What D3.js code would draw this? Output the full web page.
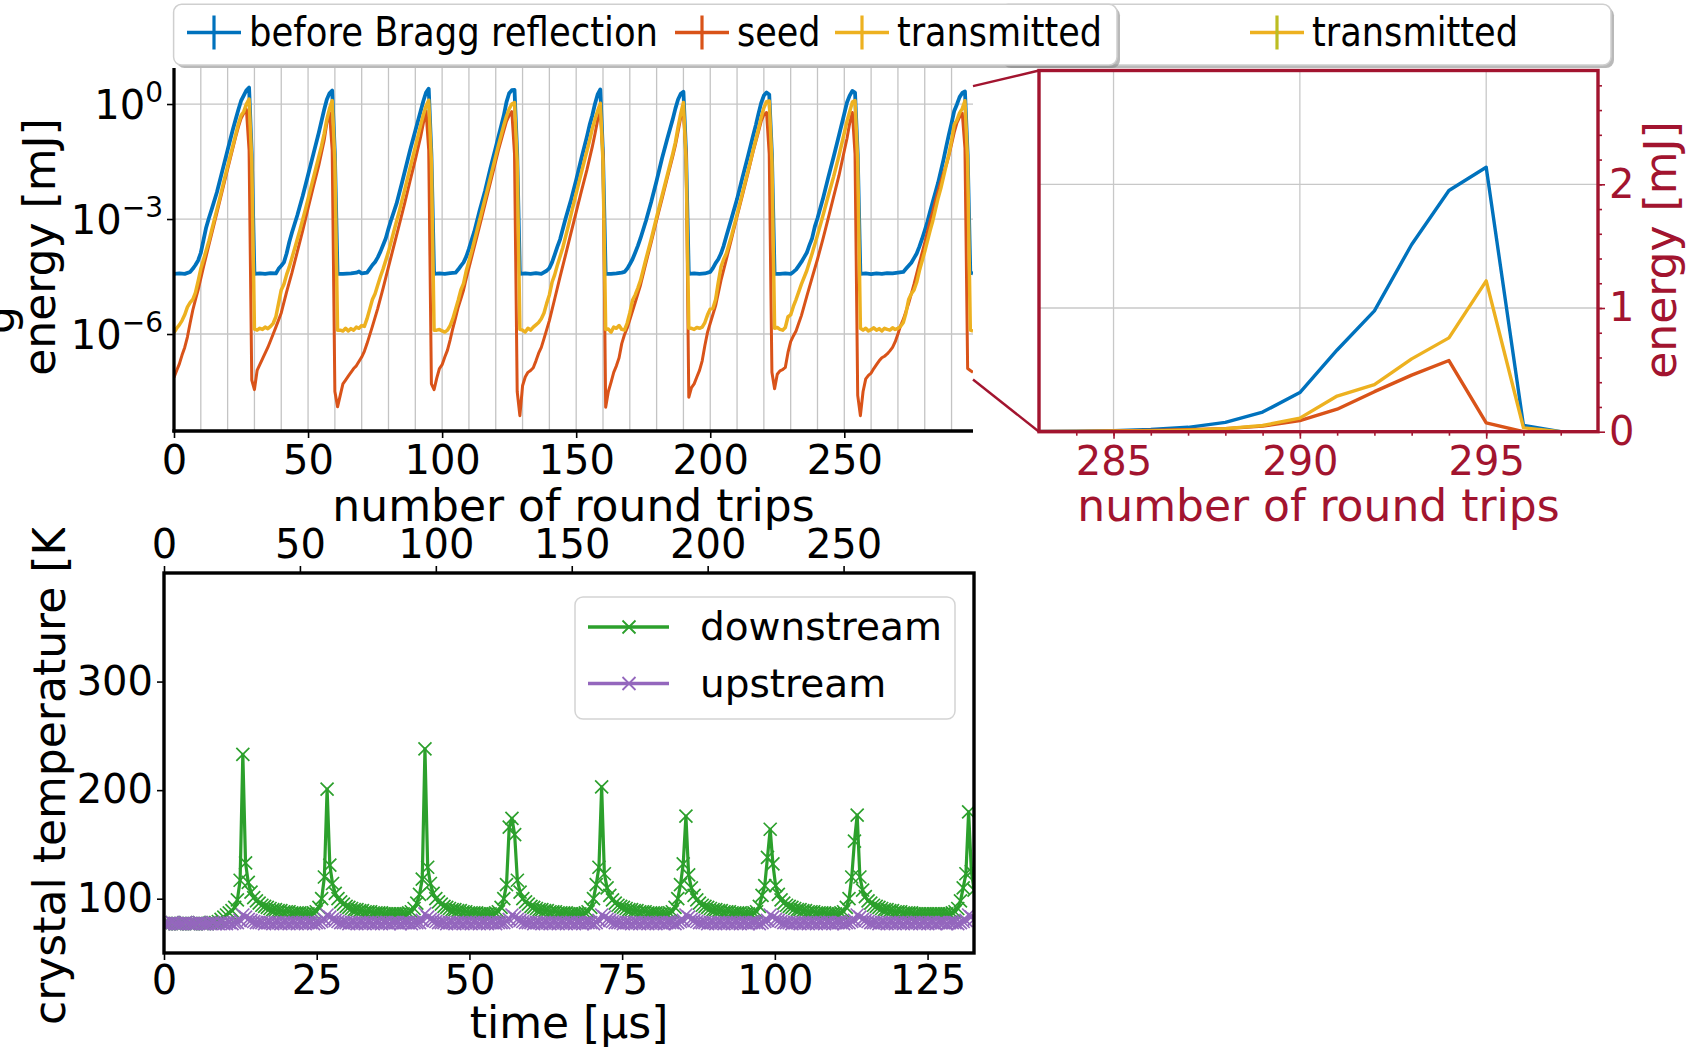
<!DOCTYPE html>
<html>
<head>
<meta charset="utf-8">
<script src="https://cdn.jsdelivr.net/npm/d3@7"></script>
<style>
  body { margin: 0; background: #fff; }
  svg { display: block; }
</style>
</head>
<body>
<div id="wrapper"></div>
<script>
// ---- data ----
// pulse energy per round trip, stored as log10(E / mJ), [trip, log10E]
const beforeBragg = [
  [0,-4.43],[2,-4.42],[4,-4.43],[6,-4.38],[7,-4.3],[8,-4.2],[9,-4.08],[10,-3.88],[11,-3.55],[12,-3.22],[13,-2.98],[14,-2.76],[16,-2.3],[18,-1.75],[20,-1.2],[22,-0.65],[23,-0.4],[24,-0.15],[25,0.08],[26,0.22],[27,0.36],[28,0.43],[29,-1.3],[30,-4.43],
  [32,-4.42],[34,-4.43],[36,-4.41],[38,-4.42],[39,-4.3],[40,-4.22],[41,-4.13],[42,-3.9],[43,-3.6],[44,-3.35],[46,-2.9],[48,-2.4],[50,-1.85],[52,-1.3],[54,-0.75],[55,-0.45],[56,-0.15],[57,0.12],[58,0.28],[59,0.35],[60,-1.3],[61,-4.43],
  [63,-4.43],[66,-4.42],[68,-4.4],[69,-4.37],[70,-4.42],[72,-4.4],[73,-4.3],[74,-4.2],[75,-4.12],[76,-4.0],[77,-3.85],[78,-3.68],[79,-3.5],[80,-3.25],[81,-3.02],[83,-2.6],[85,-2.06],[88,-1.22],[90,-0.7],[92,-0.18],[93,0.08],[94,0.3],[95,0.4],[96,-1.3],[97,-4.43],
  [99,-4.42],[101,-4.43],[103,-4.41],[105,-4.4],[106,-4.32],[107,-4.22],[108,-4.13],[109,-3.98],[110,-3.78],[111,-3.55],[112,-3.33],[114,-2.78],[116,-2.27],[118,-1.68],[120,-1.13],[122,-0.58],[123,-0.3],[124,0.05],[125,0.28],[126,0.36],[127,0.37],[128,-1.3],[129,-4.43],
  [131,-4.42],[133,-4.43],[135,-4.41],[137,-4.43],[139,-4.35],[140,-4.28],[141,-4.13],[142,-3.93],[143,-3.72],[144,-3.53],[146,-3.0],[148,-2.52],[150,-1.98],[152,-1.4],[154,-0.85],[155,-0.55],[156,-0.3],[157,0.0],[158,0.25],[159,0.38],[160,-1.3],[161,-4.43],
  [163,-4.43],[165,-4.42],[167,-4.4],[168,-4.38],[169,-4.3],[170,-4.18],[171,-4.05],[172,-3.88],[173,-3.7],[174,-3.5],[176,-3.05],[178,-2.55],[180,-2.0],[182,-1.42],[184,-0.9],[186,-0.4],[187,-0.12],[188,0.12],[189,0.27],[190,0.32],[191,-1.3],[192,-4.43],
  [194,-4.42],[196,-4.43],[198,-4.42],[200,-4.38],[201,-4.28],[202,-4.15],[203,-4.05],[204,-3.9],[205,-3.7],[206,-3.45],[208,-2.97],[210,-2.48],[212,-1.92],[214,-1.38],[216,-0.82],[217,-0.55],[218,-0.25],[219,0.03],[220,0.22],[221,0.3],[222,0.25],[223,-1.3],[224,-4.43],
  [226,-4.43],[228,-4.42],[230,-4.43],[231,-4.38],[232,-4.32],[233,-4.22],[234,-4.12],[235,-4.0],[236,-3.88],[237,-3.68],[238,-3.5],[239,-3.2],[240,-2.98],[242,-2.48],[244,-1.92],[246,-1.38],[248,-0.82],[250,-0.25],[251,0.04],[252,0.22],[253,0.34],[254,0.3],[255,-1.3],[256,-4.43],
  [258,-4.42],[260,-4.44],[262,-4.42],[264,-4.43],[266,-4.41],[268,-4.42],[270,-4.4],[272,-4.38],[273,-4.3],[274,-4.22],[275,-4.14],[276,-4.02],[277,-3.9],[278,-3.72],[279,-3.52],[280,-3.3],[281,-3.07],[282,-2.8],[283,-2.55],[284,-2.3],[285,-2.05],[286,-1.75],[287,-1.45],[288,-1.12],[289,-0.8],[290,-0.5],[291,-0.18],[292,-0.01],[293,0.18],[294,0.29],[295,0.33],[296,-1.3],[297,-4.4],[298,-4.42]
];
const seed = [
  [0,-7.13],[1,-6.95],[2,-6.78],[3,-6.55],[4,-6.35],[5,-6.08],[6,-5.72],[7,-5.38],[8,-5.1],[9,-4.85],[10,-4.55],[11,-4.25],[13,-3.68],[15,-3.12],[17,-2.55],[19,-1.98],[21,-1.42],[23,-0.86],[24,-0.6],[25,-0.38],[26,-0.24],[27,-0.14],[28,-1.2],[29,-7.2],[30,-7.45],
  [31,-6.95],[32,-6.8],[33,-6.65],[35,-6.35],[37,-6.0],[38,-5.82],[40,-5.45],[42,-4.9],[44,-4.4],[46,-3.85],[48,-3.3],[50,-2.72],[52,-2.15],[54,-1.6],[56,-0.95],[57,-0.5],[58,-0.22],[59,-1.2],[60,-7.5],[61,-7.9],
  [62,-7.6],[63,-7.3],[64,-7.2],[65,-7.1],[66,-7.0],[67,-6.9],[68,-6.83],[70,-6.6],[71,-6.45],[72,-6.25],[74,-5.8],[76,-5.33],[78,-4.8],[80,-4.25],[82,-3.7],[84,-3.15],[86,-2.6],[88,-2.02],[90,-1.45],[92,-0.85],[93,-0.5],[94,-0.18],[95,-1.2],[96,-7.3],[97,-7.45],
  [98,-7.15],[99,-6.9],[100,-6.8],[101,-6.6],[102,-6.42],[103,-6.15],[104,-5.85],[105,-5.58],[106,-5.3],[107,-5.08],[108,-4.85],[109,-4.55],[111,-4.0],[113,-3.45],[115,-2.9],[117,-2.33],[119,-1.77],[121,-1.2],[123,-0.7],[124,-0.45],[125,-0.3],[126,-0.2],[127,-1.3],[128,-7.5],[129,-8.13],
  [130,-7.35],[131,-7.12],[132,-7.0],[133,-6.95],[134,-6.88],[135,-6.7],[136,-6.5],[137,-6.35],[138,-6.12],[140,-5.65],[142,-5.08],[144,-4.5],[146,-3.95],[148,-3.38],[150,-2.82],[152,-2.26],[154,-1.72],[156,-1.12],[157,-0.78],[158,-0.42],[159,-0.2],[160,-1.3],[161,-7.91],
  [162,-7.5],[163,-7.26],[164,-7.0],[165,-6.83],[166,-6.62],[167,-6.25],[168,-6.02],[169,-5.85],[170,-5.63],[172,-5.18],[174,-4.72],[176,-4.15],[178,-3.6],[180,-3.03],[182,-2.48],[184,-1.92],[186,-1.37],[187,-1.08],[188,-0.72],[189,-0.35],[190,-0.22],[191,-1.3],[192,-7.65],
  [193,-7.4],[194,-7.3],[195,-7.12],[196,-6.95],[197,-6.7],[198,-6.3],[199,-5.95],[200,-5.72],[202,-5.26],[204,-4.6],[206,-4.05],[208,-3.5],[210,-2.93],[212,-2.38],[214,-1.82],[216,-1.24],[218,-0.72],[219,-0.45],[220,-0.28],[221,-0.22],[222,-1.3],[223,-7.0],[224,-7.43],
  [225,-7.05],[226,-6.96],[227,-6.93],[228,-6.87],[229,-6.48],[230,-6.2],[231,-6.05],[232,-5.92],[233,-5.72],[234,-5.52],[236,-5.02],[238,-4.53],[240,-4.05],[242,-3.53],[244,-2.98],[246,-2.42],[248,-1.87],[250,-1.22],[251,-0.9],[252,-0.5],[253,-0.22],[254,-1.3],[255,-7.6],[256,-8.13],
  [257,-7.5],[258,-7.17],[259,-7.08],[260,-7.02],[261,-6.9],[262,-6.8],[263,-6.7],[264,-6.62],[265,-6.58],[266,-6.52],[267,-6.44],[268,-6.35],[269,-6.2],[270,-6.0],[271,-5.78],[272,-5.62],[274,-5.2],[276,-4.7],[278,-4.15],[280,-3.62],[282,-3.05],[283,-2.8],[284,-2.52],[285,-2.27],[286,-2.02],[287,-1.8],[288,-1.6],[289,-1.35],[290,-1.05],[291,-0.74],[292,-0.49],[293,-0.34],[294,-0.24],[295,-1.15],[296,-6.9],[297,-6.95],[298,-7.0]
];
const transmitted = [
  [0,-5.96],[1,-5.85],[2,-5.76],[3,-5.65],[4,-5.5],[5,-5.3],[6,-5.18],[7,-5.1],[8,-4.92],[9,-4.62],[10,-4.3],[11,-4.06],[13,-3.58],[15,-3.03],[17,-2.48],[19,-1.9],[21,-1.35],[23,-0.8],[24,-0.52],[25,-0.3],[26,-0.2],[27,0.0],[28,0.13],[29,-1.5],[30,-5.87],
  [31,-5.9],[32,-5.85],[33,-5.88],[34,-5.82],[35,-5.86],[36,-5.8],[37,-5.72],[38,-5.55],[39,-5.2],[40,-4.85],[41,-4.7],[42,-4.45],[43,-4.25],[45,-3.77],[47,-3.28],[49,-2.75],[51,-2.2],[53,-1.65],[55,-1.1],[56,-0.78],[57,-0.4],[58,-0.12],[59,0.09],[60,-1.5],[61,-5.9],
  [62,-5.9],[63,-5.92],[64,-5.85],[65,-5.92],[66,-5.86],[67,-5.9],[68,-5.82],[69,-5.85],[70,-5.78],[71,-5.8],[72,-5.6],[73,-5.35],[74,-5.1],[75,-4.95],[76,-4.72],[77,-4.5],[78,-4.3],[80,-3.85],[82,-3.32],[84,-2.8],[86,-2.25],[88,-1.68],[90,-1.12],[92,-0.55],[93,-0.28],[94,-0.05],[95,0.1],[96,-1.5],[97,-5.9],
  [98,-5.9],[99,-5.88],[100,-5.92],[101,-5.95],[102,-5.9],[103,-5.78],[104,-5.6],[105,-5.36],[106,-5.12],[107,-4.85],[108,-4.68],[109,-4.35],[111,-3.85],[113,-3.3],[115,-2.75],[117,-2.2],[119,-1.64],[121,-1.08],[123,-0.56],[124,-0.32],[125,-0.13],[126,0.0],[127,0.04],[128,-1.5],[129,-5.88],
  [130,-5.9],[131,-5.95],[132,-5.85],[133,-5.9],[134,-5.82],[135,-5.76],[136,-5.7],[137,-5.6],[138,-5.45],[139,-5.2],[140,-4.98],[141,-4.65],[142,-4.45],[143,-4.2],[145,-3.75],[147,-3.2],[149,-2.62],[151,-2.05],[153,-1.5],[155,-0.95],[156,-0.65],[157,-0.4],[158,-0.18],[159,0.02],[160,-1.5],[161,-5.88],
  [162,-5.87],[163,-5.95],[164,-5.82],[165,-5.85],[166,-5.78],[167,-5.88],[168,-5.9],[169,-5.72],[170,-5.45],[171,-5.12],[172,-4.98],[173,-4.8],[174,-4.6],[176,-4.05],[178,-3.52],[180,-2.95],[182,-2.4],[184,-1.85],[186,-1.3],[187,-1.0],[188,-0.6],[189,-0.25],[190,0.04],[191,-1.5],[192,-5.85],
  [193,-5.85],[194,-5.88],[195,-5.83],[196,-5.85],[197,-5.82],[198,-5.7],[199,-5.5],[200,-5.35],[201,-5.33],[202,-5.1],[203,-4.65],[204,-4.25],[205,-4.05],[206,-3.9],[208,-3.42],[210,-2.88],[212,-2.32],[214,-1.77],[216,-1.2],[218,-0.65],[219,-0.35],[220,-0.1],[221,0.06],[222,0.08],[223,-1.5],[224,-5.85],
  [225,-5.83],[226,-5.88],[227,-5.9],[228,-5.83],[229,-5.55],[230,-5.5],[231,-5.28],[232,-5.1],[233,-4.9],[234,-4.7],[236,-4.35],[238,-3.9],[240,-3.42],[242,-2.92],[244,-2.4],[246,-1.9],[248,-1.35],[250,-0.75],[251,-0.45],[252,-0.2],[253,0.05],[254,0.09],[255,-1.5],[256,-5.85],
  [257,-5.9],[258,-5.85],[259,-5.92],[260,-5.88],[261,-5.84],[262,-5.9],[263,-5.86],[264,-5.92],[265,-5.85],[266,-5.88],[267,-5.9],[268,-5.84],[269,-5.88],[270,-5.85],[271,-5.8],[272,-5.7],[273,-5.45],[274,-5.1],[275,-4.95],[276,-4.85],[277,-4.65],[278,-4.35],[280,-3.85],[282,-3.3],[283,-3.05],[284,-2.75],[285,-2.45],[286,-2.2],[287,-1.9],[288,-1.6],[289,-1.3],[290,-0.96],[291,-0.54],[292,-0.42],[293,-0.23],[294,-0.12],[295,0.086],[296,-1.5],[297,-5.9],[298,-5.92]
];

// crystal temperature [K], one value per round trip (trip 0 .. 298)
const downstreamK = [
  77,77,77,78,77,77,77,77,78,77, 77,77,77,78,77,77,77,78,78,78,
  79,81,83,85,87,89,92,99,117,233, 133,115,106,101,98,96,94,93,92,91,
  90,90,89,89,88,88,88,87,87,87, 87,86,86,86,86,87,88,92,100,120,
  201,131,114,105,100,97,95,93,92,91, 90,90,89,89,88,88,88,87,87,87,
  87,86,86,86,86,86,86,86,86,86, 87,88,91,96,104,118,238,129,114,105,
  100,97,95,93,92,91,90,90,89,89, 88,88,87,87,87,87,86,86,86,86,
  86,86,87,88,92,100,113,166,174,159, 117,106,100,97,95,93,92,91,90,90,
  89,89,88,88,88,87,87,87,87,86, 86,86,86,86,86,87,88,92,100,113,
  129,203,123,110,103,99,96,94,93,92, 91,90,90,89,89,88,88,88,87,87,
  87,87,86,86,86,86,87,88,92,100, 113,132,176,122,110,103,99,96,94,93,
  92,91,90,90,89,89,88,88,88,87, 87,87,87,86,86,86,86,87,88,93,
  103,112,138,164,132,112,104,99,96,94, 93,92,91,90,90,89,89,88,88,88,
  87,87,87,87,86,86,86,86,86,87, 88,92,100,120,153,177,120,108,102,98,
  96,94,93,92,91,90,90,89,89,88, 88,88,87,87,87,87,86,86,86,86,
  86,86,86,86,86,86,86,86,86,86, 87,88,91,98,110,123,180,125,108
];
const upstreamK = [
  77,77,77,78,77,77,77,77,78,77, 77,77,77,78,77,77,77,77,78,77,
  77,78,77,77,78,77,78,78,80,85, 83,81,80,79,78,78,78,77,78,78,
  77,78,78,77,78,78,77,78,78,77, 78,78,77,78,78,77,78,78,79,81,
  85,83,81,80,79,78,78,78,77,78, 78,77,78,78,77,78,78,77,78,78,
  77,78,78,77,78,78,78,77,78,78, 78,77,78,78,78,80,86,83,81,80,
  79,78,78,78,77,78,78,77,78,78, 77,78,78,77,78,78,77,78,78,77,
  78,78,77,78,78,78,79,81,85,83, 81,80,79,78,78,78,77,78,78,77,
  78,78,77,78,78,77,78,78,77,78, 78,77,78,78,77,78,78,78,77,78,
  80,85,83,81,80,79,78,78,78,77, 78,78,77,78,78,77,78,78,77,78,
  78,77,78,78,77,78,78,78,77,78, 79,80,85,83,81,80,79,78,78,78,
  77,78,78,77,78,78,77,78,78,77, 78,78,77,78,78,77,78,78,78,77,
  78,79,80,85,83,81,80,79,78,78, 78,77,78,78,77,78,78,77,78,78,
  77,78,78,77,78,78,77,78,78,78, 77,78,78,79,80,85,83,81,80,79,
  78,78,78,77,78,78,77,78,78,77, 78,78,77,78,78,77,78,78,77,78,
  78,77,78,78,77,78,78,78,77,78, 78,78,77,78,79,80,85,83,81
];
const roundTripUs = 0.445;   // µs per round trip

const energySeries = [
  { name: "before Bragg reflection", color: "#0072BD", width: 3.8, data: beforeBragg },
  { name: "seed", color: "#D95319", width: 3.0, data: seed },
  { name: "transmitted", color: "#EDB120", width: 3.5, data: transmitted }
];
const mainXTicks = [0, 50, 100, 150, 200, 250];
const mainYTicks = [1, 1e-3, 1e-6];
const insetXTicks = [285, 290, 295];
const insetYTicks = [0, 1, 2];
const timeTicks = [0, 25, 50, 75, 100, 125];
const tripTopTicks = [0, 50, 100, 150, 200, 250];
const tempTicks = [100, 200, 300];

// ---- layout ----
const FONT = "DejaVu Sans";
const RED = "#A2142F";
const main = { left: 174, right: 973, top: 68, bottom: 431 };
const inset = { left: 1039, right: 1598, top: 70.5, bottom: 431.7 };
const temp = { left: 164, right: 974, top: 573, bottom: 953 };

const svg = d3.select("#wrapper").append("svg")
  .attr("width", 1701).attr("height", 1047)
  .style("font-family", FONT);
const defs = svg.append("defs");
function clip(id, b) {
  defs.append("clipPath").attr("id", id).append("rect")
    .attr("x", b.left).attr("y", b.top)
    .attr("width", b.right - b.left).attr("height", b.bottom - b.top);
  return `url(#${id})`;
}
function styleAxis(g, color, size) {
  g.attr("font-family", FONT).attr("font-size", size);
  g.select(".domain").remove();
  g.selectAll(".tick line").attr("stroke", color).attr("stroke-width", 1.6);
  g.selectAll(".tick text").attr("fill", color);
}

// ---- scales ----
const xMain = d3.scaleLinear().domain([0, 298]).range([main.left, main.right]);
const yMain = d3.scaleLog().domain([Math.pow(10, -8.53), Math.pow(10, 0.94)]).range([main.bottom, main.top]);
const xInset = d3.scaleLinear().domain([283, 298]).range([inset.left, inset.right]);
const yInset = d3.scaleLinear().domain([0, 2.92]).range([inset.bottom, inset.top]);
const xTime = d3.scaleLinear().domain([0, 132.6]).range([temp.left, temp.right]);
const xTripTop = d3.scaleLinear().domain([0, 132.6 / roundTripUs]).range([temp.left, temp.right]);
const yTemp = d3.scaleLinear().domain([50, 400]).range([temp.bottom, temp.top]);

// ================= main log panel =================
const gMain = svg.append("g");
gMain.append("g").selectAll("line").data(d3.range(0, 291, 10)).join("line")
  .attr("x1", d => xMain(d)).attr("x2", d => xMain(d))
  .attr("y1", main.top).attr("y2", main.bottom)
  .attr("stroke", "#c4c4c4").attr("stroke-width", 1.3);
gMain.append("g").selectAll("line").data(mainYTicks).join("line")
  .attr("x1", main.left).attr("x2", main.right)
  .attr("y1", d => yMain(d)).attr("y2", d => yMain(d))
  .attr("stroke", "#c4c4c4").attr("stroke-width", 1.3);

const mainLine = d3.line().x(d => xMain(d[0])).y(d => yMain(Math.pow(10, d[1])));
const mainPlot = gMain.append("g").attr("clip-path", clip("clipMain", main));
energySeries.forEach(s => {
  mainPlot.append("path").attr("d", mainLine(s.data))
    .attr("fill", "none").attr("stroke", s.color)
    .attr("stroke-width", s.width).attr("stroke-linejoin", "round");
});

const mxAxis = gMain.append("g").attr("transform", `translate(0,${main.bottom})`)
  .call(d3.axisBottom(xMain).tickValues(mainXTicks).tickSize(7).tickPadding(8).tickSizeOuter(0));
styleAxis(mxAxis, "#000", 40);
const myAxis = gMain.append("g").attr("transform", `translate(${main.left},0)`)
  .call(d3.axisLeft(yMain).tickValues(mainYTicks).tickSize(7).tickFormat(() => "").tickSizeOuter(0));
styleAxis(myAxis, "#000", 40);
mainYTicks.forEach(v => {
  const e = Math.round(Math.log10(v));
  const t = gMain.append("text").attr("x", main.left - 11).attr("y", yMain(v) + 15)
    .attr("text-anchor", "end").attr("font-size", 40).attr("fill", "#000");
  t.append("tspan").text("10");
  t.append("tspan").attr("font-size", 28).attr("dy", -17).text(e < 0 ? "\u2212" + (-e) : String(e));
});
gMain.append("line").attr("x1", main.left).attr("x2", main.left)
  .attr("y1", main.top).attr("y2", main.bottom + 1.6)
  .attr("stroke", "#000").attr("stroke-width", 3.3);
gMain.append("line").attr("x1", main.left - 1.6).attr("x2", main.right)
  .attr("y1", main.bottom).attr("y2", main.bottom)
  .attr("stroke", "#000").attr("stroke-width", 3.3);

gMain.append("text").attr("x", (main.left + main.right) / 2).attr("y", 521)
  .attr("text-anchor", "middle").attr("font-size", 44).text("number of round trips");
gMain.append("text").attr("transform", "translate(55,247) rotate(-90)")
  .attr("text-anchor", "middle").attr("font-size", 44).text("energy [mJ]");
gMain.append("text").attr("transform", "translate(14,320) rotate(-90)")
  .attr("text-anchor", "middle").attr("font-size", 44).text("g");

// ================= inset (linear) panel =================
const gIn = svg.append("g");
// connectors from the main panel to the inset
const linkTop = [[xMain(298), yMain(2.92)], [inset.left, inset.top]];
const linkBottom = [[xMain(298), yMain(6.5e-8)], [inset.left, inset.bottom]];
[linkTop, linkBottom].forEach(l => {
  gIn.append("line").attr("x1", l[0][0]).attr("y1", l[0][1]).attr("x2", l[1][0]).attr("y2", l[1][1])
    .attr("stroke", RED).attr("stroke-width", 2.4);
});
gIn.append("g").selectAll("line").data(insetXTicks).join("line")
  .attr("x1", d => xInset(d)).attr("x2", d => xInset(d))
  .attr("y1", inset.top).attr("y2", inset.bottom)
  .attr("stroke", "#c8c8c8").attr("stroke-width", 1.3);
gIn.append("g").selectAll("line").data([1, 2]).join("line")
  .attr("x1", inset.left).attr("x2", inset.right)
  .attr("y1", d => yInset(d)).attr("y2", d => yInset(d))
  .attr("stroke", "#c8c8c8").attr("stroke-width", 1.3);

const insetLine = d3.line().x(d => xInset(d[0])).y(d => yInset(Math.pow(10, d[1])));
const inPlot = gIn.append("g").attr("clip-path", clip("clipInset", inset));
energySeries.forEach(s => {
  inPlot.append("path").attr("d", insetLine(s.data.filter(d => d[0] >= 280)))
    .attr("fill", "none").attr("stroke", s.color)
    .attr("stroke-width", 3.4).attr("stroke-linejoin", "round");
});

const ixMinor = gIn.append("g").attr("transform", `translate(0,${inset.bottom})`)
  .call(d3.axisBottom(xInset).tickValues(d3.range(284, 298, 1)).tickSize(4).tickFormat(() => "").tickSizeOuter(0));
styleAxis(ixMinor, RED, 40);
const ixAxis = gIn.append("g").attr("transform", `translate(0,${inset.bottom})`)
  .call(d3.axisBottom(xInset).tickValues(insetXTicks).tickSize(7).tickPadding(8).tickSizeOuter(0));
styleAxis(ixAxis, RED, 40);
const iyMinor = gIn.append("g").attr("transform", `translate(${inset.right},0)`)
  .call(d3.axisRight(yInset).tickValues(d3.range(0.2, 2.9, 0.2)).tickSize(4).tickFormat(() => "").tickSizeOuter(0));
styleAxis(iyMinor, RED, 40);
const iyAxis = gIn.append("g").attr("transform", `translate(${inset.right},0)`)
  .call(d3.axisRight(yInset).tickValues(insetYTicks).tickSize(7).tickPadding(4)
    .tickFormat(d3.format("d")).tickSizeOuter(0));
styleAxis(iyAxis, RED, 40);
gIn.append("rect").attr("x", inset.left).attr("y", inset.top)
  .attr("width", inset.right - inset.left).attr("height", inset.bottom - inset.top)
  .attr("fill", "none").attr("stroke", RED).attr("stroke-width", 3.4);
gIn.append("text").attr("x", (inset.left + inset.right) / 2).attr("y", 521)
  .attr("text-anchor", "middle").attr("font-size", 44).attr("fill", RED).text("number of round trips");
gIn.append("text").attr("transform", "translate(1676,250) rotate(-90)")
  .attr("text-anchor", "middle").attr("font-size", 44).attr("fill", RED).text("energy [mJ]");

// ================= top legend (errorbar handles) =================
const gLeg = svg.append("g");
function legendBox(x, y, w, h) {
  gLeg.append("rect").attr("x", x + 3).attr("y", y + 3).attr("width", w).attr("height", h)
    .attr("rx", 8).attr("fill", "#7f7f7f").attr("opacity", 0.55);
  gLeg.append("rect").attr("x", x).attr("y", y).attr("width", w).attr("height", h)
    .attr("rx", 8).attr("fill", "#fff").attr("stroke", "#cfcfcf").attr("stroke-width", 1.5);
}
function errHandle(x1, x2, y, lineColor, barColor) {
  gLeg.append("line").attr("x1", x1).attr("x2", x2).attr("y1", y).attr("y2", y)
    .attr("stroke", lineColor).attr("stroke-width", 3.6);
  const xm = (x1 + x2) / 2;
  gLeg.append("line").attr("x1", xm).attr("x2", xm).attr("y1", y - 17).attr("y2", y + 17)
    .attr("stroke", barColor).attr("stroke-width", 3.2);
}
legendBox(1000, 4.3, 611, 60.7);
legendBox(173.6, 4.3, 943.4, 60.7);
const legendEntries = [
  { label: energySeries[0].name, line: energySeries[0].color, bar: energySeries[0].color, x: 187, w: 409 },
  { label: energySeries[1].name, line: energySeries[1].color, bar: energySeries[1].color, x: 675, w: 83.5 },
  { label: energySeries[2].name, line: energySeries[2].color, bar: energySeries[2].color, x: 835, w: 205 },
  { label: "transmitted", line: "#EDB120", bar: "#bcbd22", x: 1250, w: 206 }
];
legendEntries.forEach(e => {
  errHandle(e.x, e.x + 54, 32.5, e.line, e.bar);
  gLeg.append("text").attr("x", e.x + 62).attr("y", 46).attr("font-size", 41)
    .attr("textLength", e.w).attr("lengthAdjust", "spacingAndGlyphs").text(e.label);
});

// ================= crystal temperature panel =================
const gT = svg.append("g");
const tempSeries = [
  { name: "downstream", color: "#2ca02c", values: downstreamK },
  { name: "upstream", color: "#9467bd", values: upstreamK }
];
const xMark = "M-6.5,-6.5L6.5,6.5M-6.5,6.5L6.5,-6.5";
const tLine = d3.line().x(d => xTime(d[0])).y(d => yTemp(d[1]));
const tPlot = gT.append("g").attr("clip-path", clip("clipTemp", temp));
tempSeries.forEach(s => {
  const pts = s.values.map((v, i) => [i * roundTripUs, v]);
  tPlot.append("path").attr("d", tLine(pts)).attr("fill", "none")
    .attr("stroke", s.color).attr("stroke-width", 3.2).attr("stroke-linejoin", "round");
  tPlot.append("g").selectAll("path").data(pts).join("path")
    .attr("transform", d => `translate(${xTime(d[0])},${yTemp(d[1])})`)
    .attr("d", xMark).attr("fill", "none").attr("stroke", s.color).attr("stroke-width", 1.7);
});

const tx = gT.append("g").attr("transform", `translate(0,${temp.bottom})`)
  .call(d3.axisBottom(xTime).tickValues(timeTicks).tickSize(7).tickPadding(6).tickSizeOuter(0));
styleAxis(tx, "#000", 40);
const ttop = gT.append("g").attr("transform", `translate(0,${temp.top})`)
  .call(d3.axisTop(xTripTop).tickValues(tripTopTicks).tickSize(7).tickPadding(8).tickSizeOuter(0));
styleAxis(ttop, "#000", 40);
const ty = gT.append("g").attr("transform", `translate(${temp.left},0)`)
  .call(d3.axisLeft(yTemp).tickValues(tempTicks).tickSize(7).tickPadding(4).tickSizeOuter(0));
styleAxis(ty, "#000", 40);
gT.append("rect").attr("x", temp.left).attr("y", temp.top)
  .attr("width", temp.right - temp.left).attr("height", temp.bottom - temp.top)
  .attr("fill", "none").attr("stroke", "#000").attr("stroke-width", 3.4);

// legend inside the temperature panel
gT.append("rect").attr("x", 575).attr("y", 597).attr("width", 380).attr("height", 122)
  .attr("rx", 8).attr("fill", "#fff").attr("fill-opacity", 0.85)
  .attr("stroke", "#d4d4d4").attr("stroke-width", 1.5);
tempSeries.forEach((s, i) => {
  const y = 627 + i * 56.5;
  gT.append("line").attr("x1", 588).attr("x2", 669).attr("y1", y).attr("y2", y)
    .attr("stroke", s.color).attr("stroke-width", 3.6);
  gT.append("path").attr("transform", `translate(629,${y})`).attr("d", xMark)
    .attr("fill", "none").attr("stroke", s.color).attr("stroke-width", 1.8);
  gT.append("text").attr("x", 700).attr("y", y + 13).attr("font-size", 39).text(s.name);
});

gT.append("text").attr("x", (temp.left + temp.right) / 2).attr("y", 1038)
  .attr("text-anchor", "middle").attr("font-size", 44).text("time [\u00b5s]");
defs.append("clipPath").attr("id", "clipYLab").append("rect")
  .attr("x", 0).attr("y", 528).attr("width", 200).attr("height", 520);
gT.append("g").attr("clip-path", "url(#clipYLab)")
  .append("text").attr("transform", "translate(65,1025) rotate(-90)")
  .attr("text-anchor", "start").attr("font-size", 44).text("crystal temperature [K]");
</script>
</body>
</html>
